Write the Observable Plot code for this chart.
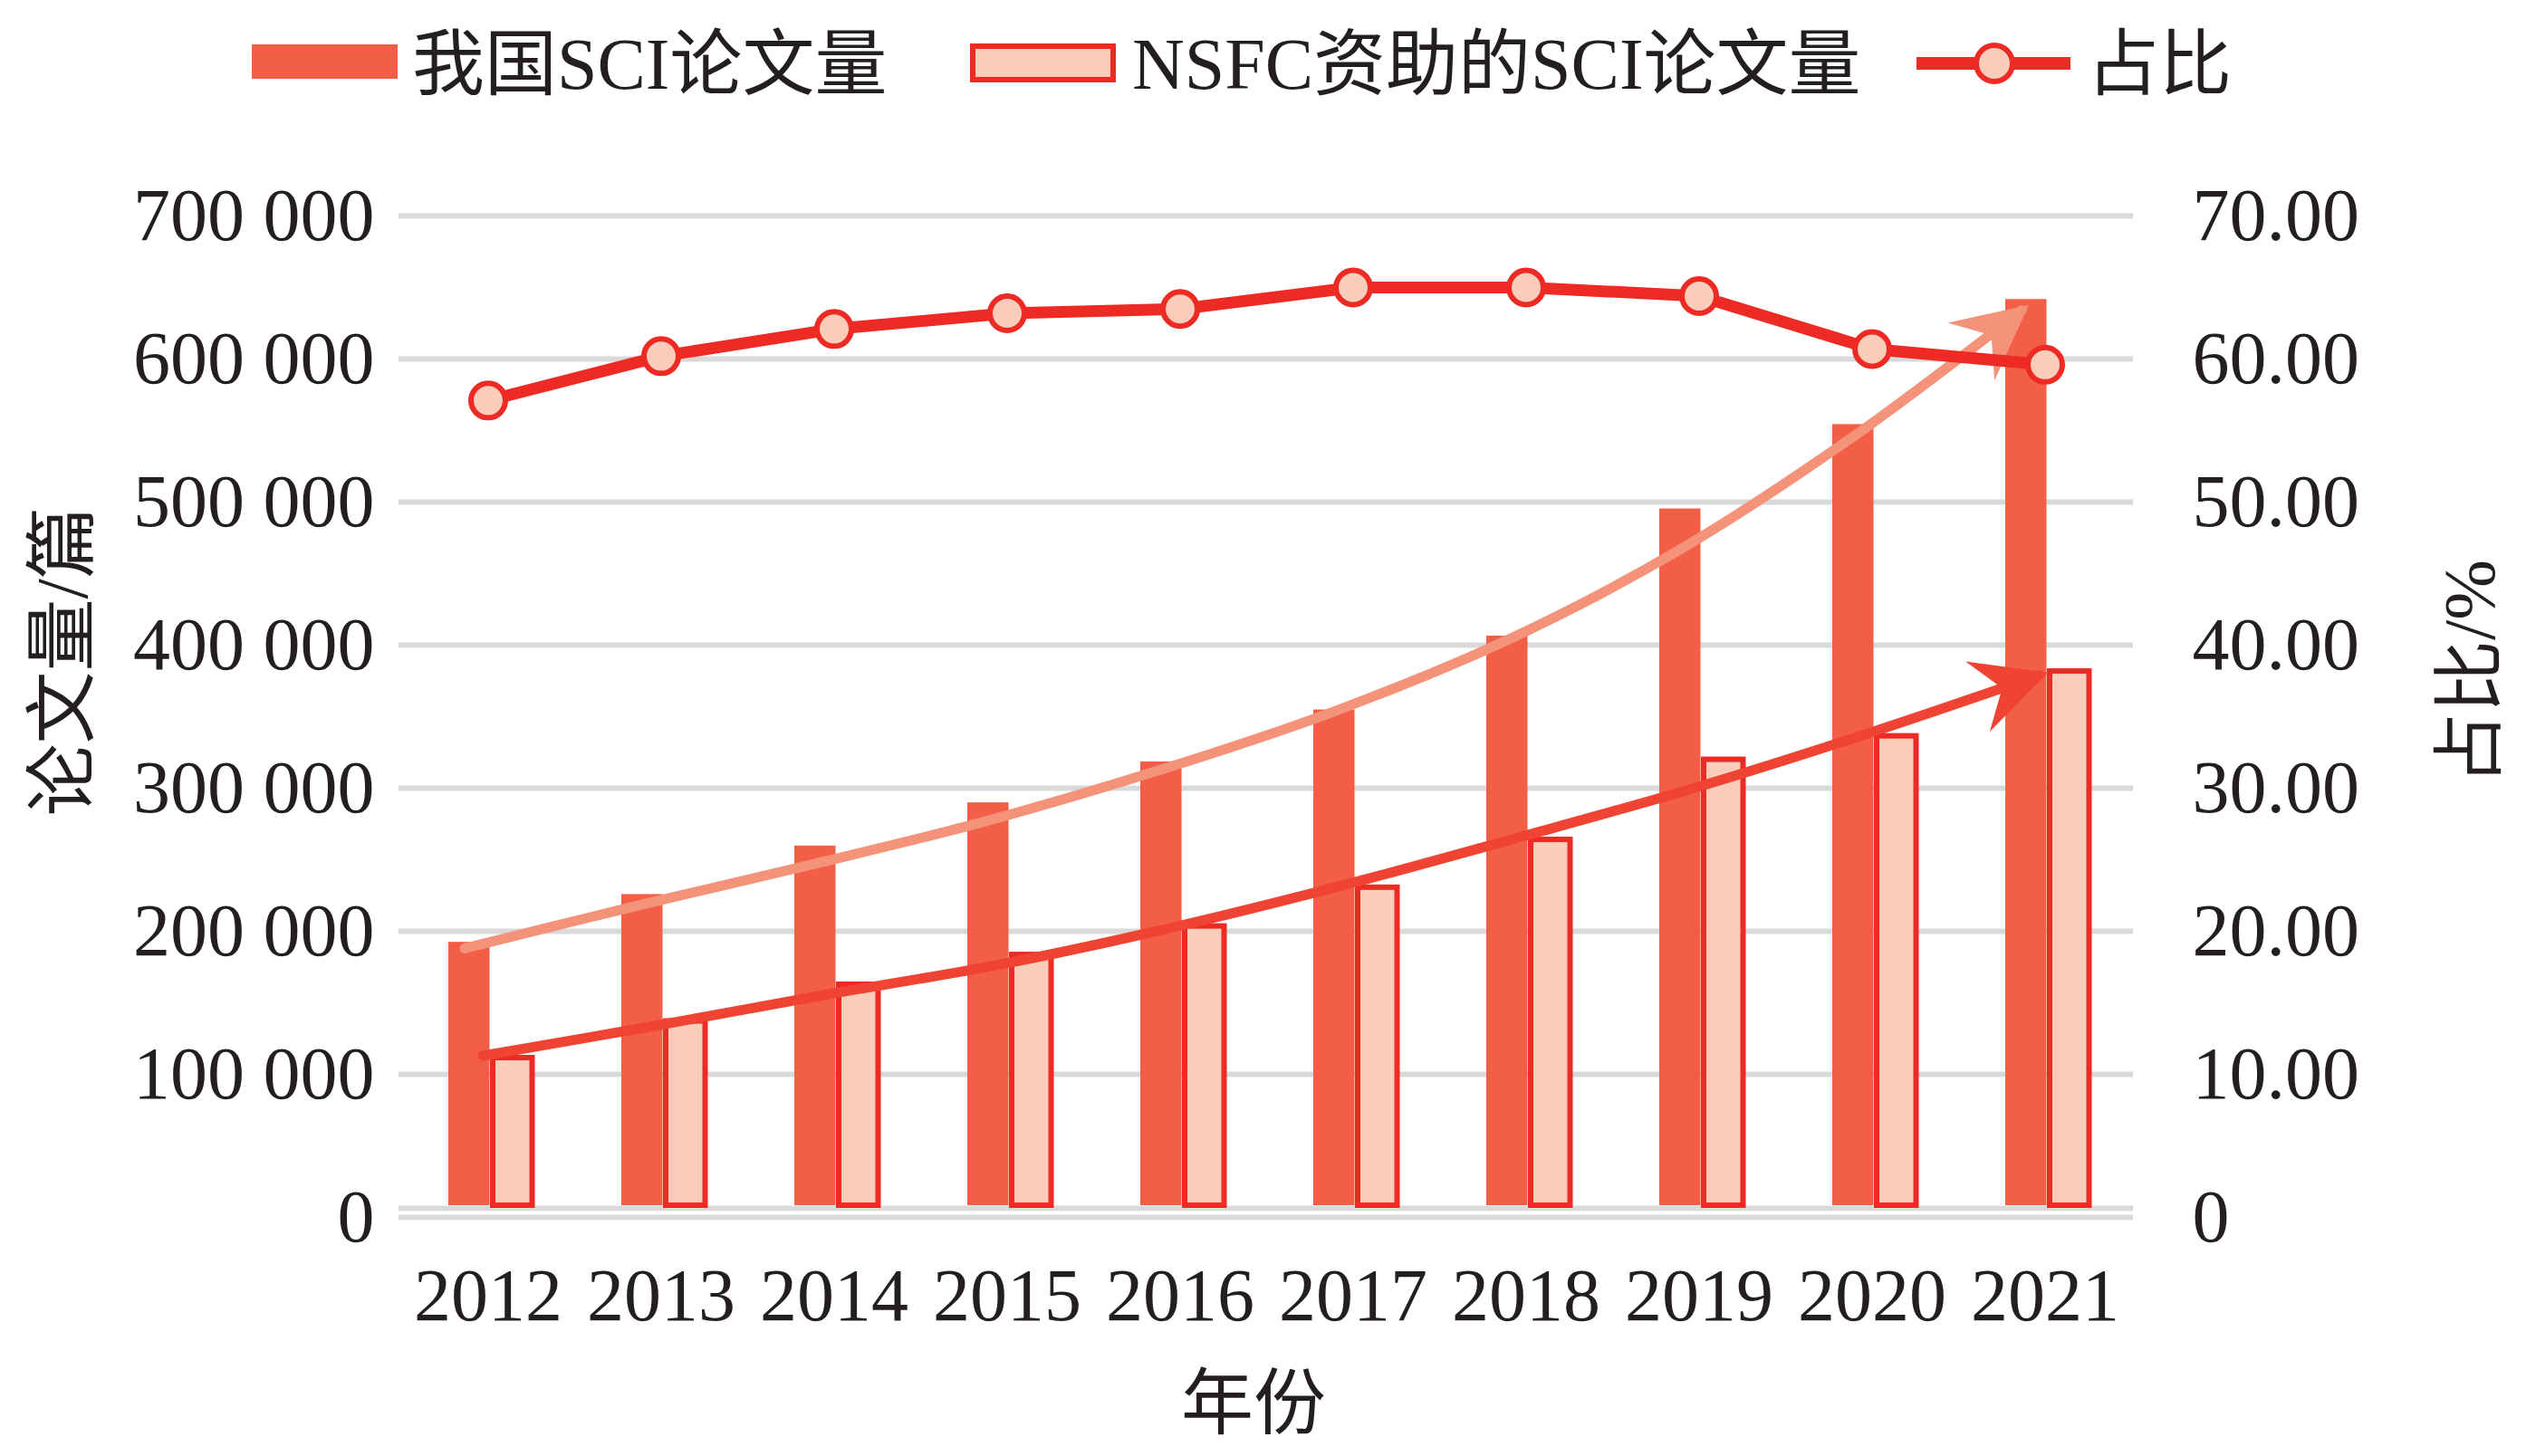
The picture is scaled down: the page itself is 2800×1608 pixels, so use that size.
<!DOCTYPE html>
<html>
<head>
<meta charset="utf-8">
<script src="https://cdn.jsdelivr.net/npm/d3@7"></script>
<script src="https://cdn.jsdelivr.net/npm/@observablehq/plot@0.6"></script>
<style>
  html, body { margin: 0; padding: 0; background: #fff; }
  #legend { display: block; }
  #chart svg { display: block; }
</style>
</head>
<body>
<svg id="legend" width="2800" height="140"></svg>
<div id="chart"></div>
<script>
// ---- data ----
const years = ["2012","2013","2014","2015","2016","2017","2018","2019","2020","2021"];
const sciTotal = [192300, 225700, 259600, 289800, 318400, 354700, 406300, 495200, 554200, 641600];
const nsfcSci  = [111400, 137000, 162700, 183500, 203400, 230500, 263900, 319900, 336300, 381600];
const ratio    = [57.1, 60.2, 62.1, 63.2, 63.5, 65.0, 65.0, 64.4, 60.7, 59.6];
// trend arrows (annotations)
const trendAll  = [188000, 218000, 246500, 276500, 312000, 352500, 402000, 465000, 543500, 634000];
const trendNsfc = [113000, 134000, 156000, 177000, 203000, 233000, 266000, 300000, 338000, 379000];
// ticks
const leftTicks = [0, 100000, 200000, 300000, 400000, 500000, 600000, 700000];
const leftTickLabels = ["0","100 000","200 000","300 000","400 000","500 000","600 000","700 000"];
const rightTickLabels = ["0","10.00","20.00","30.00","40.00","50.00","60.00","70.00"];
const seriesNames = ["我国SCI论文量", "NSFC资助的SCI论文量", "占比"];
const axisTitles = {left: "论文量/篇", right: "占比/%", bottom: "年份"};

const C = {
  dark: "#F25E46", light: "#F9CDB9", red: "#EE2A24",
  trendLight: "#F4937A", trendDark: "#EF4433", grid: "#D9D9D9", text: "#231F20"
};
const FONT = "'Liberation Serif', 'Times New Roman', 'Noto Sans CJK SC', serif";

const rows = years.map((y, i) => ({
  year: y, total: sciTotal[i], nsfc: nsfcSci[i], ratioY: ratio[i] * 10000,
  tAll: trendAll[i], tNsfc: trendNsfc[i]
}));
const last = rows[rows.length - 1];

// stealth arrowhead symbol, tip at origin, rotated to the given screen angle
function stealth(angleDeg) {
  const a = (angleDeg + 90) * Math.PI / 180, c = Math.cos(a), s = Math.sin(a);
  const pts = r => [[0,0],[r,2*r],[0,1.3*r],[-r,2*r]].map(([x,y]) => [x*c - y*s, x*s + y*c]);
  return {draw(ctx, size) {
    const r = Math.sqrt(size / Math.PI);
    const p = pts(r);
    ctx.moveTo(p[0][0], p[0][1]);
    for (let i = 1; i < p.length; i++) ctx.lineTo(p[i][0], p[i][1]);
    ctx.closePath();
  }};
}

const titleOpts = {text: d => d, textAnchor: "middle", lineAnchor: "middle", fontSize: 80};

const chart = Plot.plot({
  width: 2800,
  height: 1468,
  marginLeft: 440,
  marginRight: 445,
  marginTop: 98,
  marginBottom: 264,
  style: {fontFamily: FONT, fontSize: "82px", color: C.text, background: "#fff"},
  x: {type: "band", domain: years, paddingInner: 0, paddingOuter: 0},
  y: {domain: [0, 700000]},
  marks: [
    Plot.gridY(leftTicks, {stroke: C.grid, strokeWidth: 6, strokeOpacity: 1}),
    Plot.ruleY([0], {stroke: C.grid, strokeWidth: 6, dy: -10}),
    Plot.barY(rows, {x: "year", y: "total", fill: C.dark, insetLeft: 52, insetRight: 93.5, insetBottom: 13}),
    Plot.barY(rows, {x: "year", y: "nsfc", fill: C.light, stroke: C.red, strokeWidth: 6,
      insetLeft: 101, insetRight: 46.5, insetBottom: 13}),
    Plot.line(rows, {x: "year", y: "tAll", stroke: C.trendLight, strokeWidth: 11, curve: "catmull-rom", dx: -26}),
    Plot.dot([last], {x: "year", y: "tAll", symbol: stealth(-39), r: 41, fill: C.trendLight, stroke: "none", dx: -18, dy: -6}),
    Plot.line(rows, {x: "year", y: "tNsfc", stroke: C.trendDark, strokeWidth: 11, curve: "catmull-rom", dx: -6}),
    Plot.dot([last], {x: "year", y: "tNsfc", symbol: stealth(-19), r: 41, fill: C.trendDark, stroke: "none", dx: 3, dy: -3}),
    Plot.line(rows, {x: "year", y: "ratioY", stroke: C.red, strokeWidth: 13}),
    Plot.dot(rows, {x: "year", y: "ratioY", r: 19, fill: C.light, stroke: C.red, strokeWidth: 6}),
    Plot.axisX({tickSize: 0, tickPadding: 55, label: null, fontSize: 82}),
    Plot.axisY({anchor: "left", ticks: leftTicks, tickSize: 0, tickPadding: 27, label: null, fontSize: 82,
      tickFormat: d => leftTickLabels[leftTicks.indexOf(d)]}),
    Plot.axisY({anchor: "right", ticks: leftTicks, tickSize: 0, tickPadding: 65, label: null, fontSize: 82,
      tickFormat: d => rightTickLabels[leftTicks.indexOf(d)]}),
    Plot.text([axisTitles.left], {...titleOpts, frameAnchor: "left", dx: -370, dy: -61, rotate: -90}),
    Plot.text([axisTitles.right], {...titleOpts, frameAnchor: "right", dx: 373, dy: -49, rotate: -90}),
    Plot.text([axisTitles.bottom], {...titleOpts, frameAnchor: "bottom", dx: -14, dy: 207})
  ]
});
document.getElementById("chart").appendChild(chart);

// ---- legend ----
const lg = d3.select("#legend").style("font-family", FONT);
lg.append("rect").attr("x", 278).attr("y", 49).attr("width", 161).attr("height", 38).attr("fill", C.dark);
lg.append("rect").attr("x", 1074).attr("y", 51).attr("width", 155).attr("height", 37)
  .attr("fill", C.light).attr("stroke", C.red).attr("stroke-width", 6);
lg.append("line").attr("x1", 2116).attr("x2", 2286).attr("y1", 70).attr("y2", 70)
  .attr("stroke", C.red).attr("stroke-width", 14);
lg.append("circle").attr("cx", 2202).attr("cy", 70).attr("r", 20)
  .attr("fill", C.light).attr("stroke", C.red).attr("stroke-width", 6);
[[455, seriesNames[0]], [1250, seriesNames[1]], [2304, seriesNames[2]]].forEach(([x, t]) => {
  lg.append("text").attr("x", x).attr("y", 70).attr("dy", "0.35em")
    .attr("font-size", 80).attr("fill", C.text).text(t);
});
</script>
</body>
</html>
